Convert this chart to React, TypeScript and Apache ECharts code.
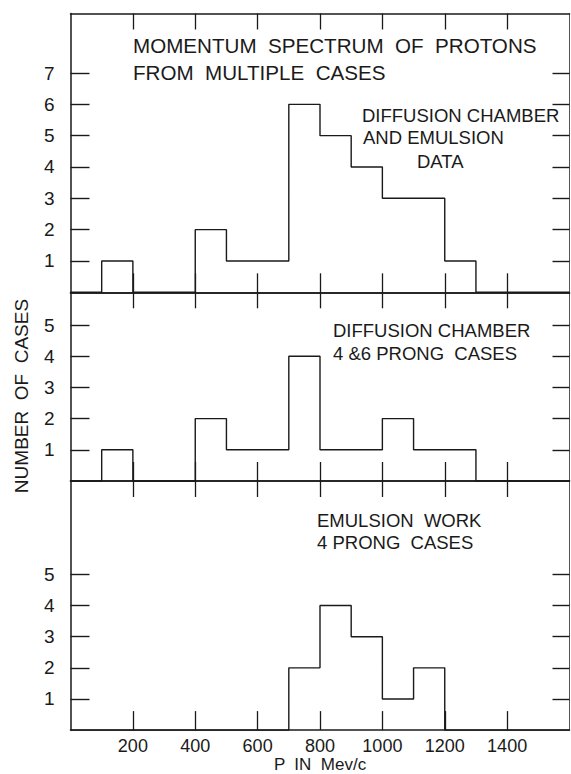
import React, { useEffect, useRef } from "react";
import * as echarts from "echarts";

const binStarts = [0, 100, 200, 300, 400, 500, 600, 700, 800, 900, 1000, 1100, 1200, 1300, 1400, 1500];
const combinedCounts = [0, 1, 0, 0, 2, 1, 1, 6, 5, 4, 3, 3, 1, 0, 0, 0];
const diffusionCounts = [0, 1, 0, 0, 2, 1, 1, 4, 1, 1, 2, 1, 1, 0, 0, 0];
const emulsionCounts = [0, 0, 0, 0, 0, 0, 0, 2, 4, 3, 1, 2, 0, 0, 0, 0];
const xMax = 1600;
const xTickValues = [200, 400, 600, 800, 1000, 1200, 1400];
const topYTicks = [1, 2, 3, 4, 5, 6, 7];
const lowerYTicks = [1, 2, 3, 4, 5];
const panelYMax = [8.9, 6.05, 8.0];

const FONT = "Liberation Sans";
const INK = "#1a1a1a";

function stepData(counts: number[]) {
  const pts: number[][] = binStarts.map((x, i) => [x, counts[i]]);
  pts.push([xMax, 0]);
  return pts;
}

export default function App() {
  const ref = useRef<HTMLDivElement>(null);
  useEffect(() => {
    if (!ref.current) return;
    const chart = echarts.init(ref.current, undefined, { renderer: "svg" });
    const left = 70.5;
    const right = 571 - 569.5;
    const tops = [13.5, 292.3, 481];
    const bottoms = [292.3, 481, 731.7];
    const grids = tops.map((t, i) => ({
      left,
      right,
      top: t,
      height: bottoms[i] - t,
      containLabel: false,
    }));
    const lineStyle = { color: INK, width: 1.5 };
    const xAxes: any[] = [];
    const yAxes: any[] = [];
    for (let g = 0; g < 3; g++) {
      xAxes.push({
        type: "value",
        gridIndex: g,
        position: "bottom",
        min: 0,
        max: xMax,
        axisLine: { show: true, onZero: false, lineStyle },
        axisTick: {
          show: true,
          inside: true,
          length: 19,
          customValues: xTickValues,
          lineStyle: { color: INK, width: 1.3 },
        },
        axisLabel: {
          show: g === 2,
          customValues: xTickValues,
          formatter: (v: number) => String(v),
          margin: 7,
          fontFamily: FONT,
          fontSize: 18,
          color: INK,
        },
        splitLine: { show: false },
        name: g === 2 ? "P  IN  Mev/c" : "",
        nameLocation: "middle",
        nameGap: 22,
        nameTextStyle: { fontFamily: FONT, fontSize: 17, color: INK },
      });
      xAxes.push({
        type: "value",
        gridIndex: g,
        position: "top",
        min: 0,
        max: xMax,
        axisLine: { show: true, onZero: false, lineStyle },
        axisTick: {
          show: true,
          inside: true,
          length: 16,
          customValues: xTickValues,
          lineStyle: { color: INK, width: 1.3 },
        },
        axisLabel: { show: false },
        splitLine: { show: false },
      });
      const yt = g === 0 ? topYTicks : lowerYTicks;
      yAxes.push({
        type: "value",
        gridIndex: g,
        position: "left",
        min: 0,
        max: panelYMax[g],
        axisLine: { show: true, onZero: false, lineStyle },
        axisTick: {
          show: true,
          inside: true,
          length: 19,
          customValues: yt,
          lineStyle: { color: INK, width: 1.4 },
        },
        axisLabel: {
          show: true,
          customValues: yt,
          formatter: (v: number) => String(v),
          margin: 16,
          fontFamily: FONT,
          fontSize: 19,
          color: INK,
        },
        splitLine: { show: false },
      });
      yAxes.push({
        type: "value",
        gridIndex: g,
        position: "right",
        min: 0,
        max: panelYMax[g],
        axisLine: { show: true, onZero: false, lineStyle: { color: "#555", width: 1 } },
        axisTick: {
          show: true,
          inside: true,
          length: 17,
          customValues: yt,
          lineStyle: { color: INK, width: 1.4 },
        },
        axisLabel: { show: false },
        splitLine: { show: false },
      });
    }
    const mk = (counts: number[], g: number) => ({
      type: "line",
      xAxisIndex: 2 * g,
      yAxisIndex: 2 * g,
      data: stepData(counts),
      step: "end",
      symbol: "none",
      clip: false,
      lineStyle: { color: INK, width: 1.4 },
      silent: true,
    });
    const txt = (text: string, x: number, y: number, size: number, extra: any = {}) => ({
      type: "text",
      x,
      y,
      style: {
        text,
        fontFamily: FONT,
        fontSize: size,
        fill: INK,
        textVerticalAlign: "middle",
        verticalAlign: "middle",
        ...extra,
      },
    });
    chart.setOption({
      animation: false,
      backgroundColor: "#ffffff",
      grid: grids,
      xAxis: xAxes,
      yAxis: yAxes,
      series: [mk(combinedCounts, 0), mk(diffusionCounts, 1), mk(emulsionCounts, 2)],
      graphic: [
        txt("MOMENTUM  SPECTRUM  OF  PROTONS", 133, 45, 20.6),
        txt("FROM  MULTIPLE  CASES", 133, 72.5, 20.6),
        txt("DIFFUSION CHAMBER", 362, 115, 18.5),
        txt("AND EMULSION", 363, 137.5, 18.5),
        txt("DATA", 417, 161, 18.5),
        txt("DIFFUSION CHAMBER", 333, 330, 18.5),
        txt("4 &6 PRONG  CASES", 333, 353, 18.5),
        txt("EMULSION  WORK", 317, 520, 18.5),
        txt("4 PRONG  CASES", 317, 542, 18.5),
        {
          type: "text",
          x: 21.5,
          y: 396,
          rotation: Math.PI / 2,
          style: {
            text: "NUMBER  OF  CASES",
            fontFamily: FONT,
            fontSize: 19,
            fill: INK,
            textAlign: "center",
            textVerticalAlign: "middle",
            verticalAlign: "middle",
          },
        },
      ],
    });
    return () => chart.dispose();
  }, []);
  return (
    <div
      ref={ref}
      style={{ position: "fixed", left: 0, top: 0, width: 571, height: 774, background: "#fff" }}
    />
  );
}
